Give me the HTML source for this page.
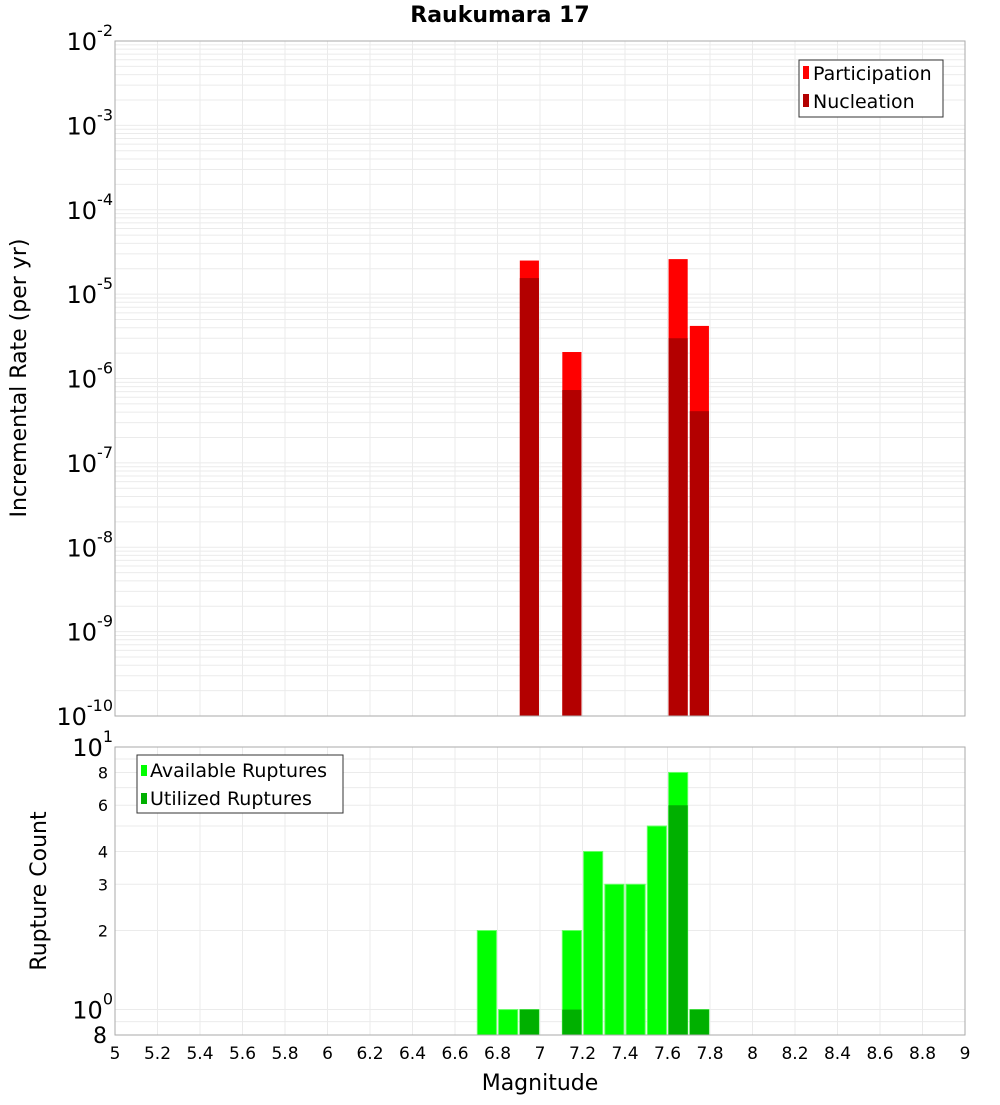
<!DOCTYPE html>
<html><head><meta charset="utf-8"><style>
body{margin:0;background:#fff;width:1000px;height:1100px;overflow:hidden}
svg{font-family:"DejaVu Sans","Liberation Sans",sans-serif}
</style></head><body>
<svg id="chart" width="1000" height="1100" xmlns="http://www.w3.org/2000/svg">
<text x="500" y="22" text-anchor="middle" font-size="22" font-weight="bold">Raukumara 17</text>
<text transform="translate(26,378) rotate(-90)" text-anchor="middle" font-size="22">Incremental Rate (per yr)</text>
<text transform="translate(46,891) rotate(-90)" text-anchor="middle" font-size="22">Rupture Count</text>
<text x="540" y="1090" text-anchor="middle" font-size="22">Magnitude</text>
<g id="gtop"></g><g id="gbot"></g><g id="gxt"></g>
<g>
<rect x="799" y="60" width="144" height="57" fill="#fff" stroke="#333"/>
<rect x="803" y="66" width="6" height="13" fill="#ff0000"/>
<text x="813" y="80" font-size="19">Participation</text>
<rect x="803" y="94" width="6" height="13" fill="#b30000"/>
<text x="813" y="108" font-size="19">Nucleation</text>
</g>
<g>
<rect x="137" y="755" width="206" height="58" fill="#fff" stroke="#333"/>
<rect x="141" y="765" width="6" height="11" fill="#00ff00"/>
<text x="150" y="777" font-size="19">Available Ruptures</text>
<rect x="141" y="793" width="6" height="11" fill="#00b000"/>
<text x="150" y="805" font-size="19">Utilized Ruptures</text>
</g>
</svg>
<script>
const rateMags=[6.95,7.15,7.65,7.75];
const participation=[2.5e-5,2.06e-6,2.6e-5,4.2e-6];
const nucleation=[1.55e-5,7.3e-7,3.0e-6,4.1e-7];
const countMags=[6.75,6.85,6.95,7.15,7.25,7.35,7.45,7.55,7.65,7.75];
const available=[2,1,1,2,4,3,3,5,8,1];
const utilized=[0,0,1,1,0,0,0,0,6,1];
const xTicks=["5","5.2","5.4","5.6","5.8","6","6.2","6.4","6.6","6.8","7","7.2","7.4","7.6","7.8","8","8.2","8.4","8.6","8.8","9"];
const topExps=[-2,-3,-4,-5,-6,-7,-8,-9,-10];
const botTicks=[8,6,4,3,2];

const NS="http://www.w3.org/2000/svg";
const X0=115,X1=965;
const xs=m=>X0+(m-5)/4*(X1-X0);
const T0=41,T1=716;
const ty=v=>T0+(-2-Math.log10(v))/8*(T1-T0);
const B0=747,B1=1035;
const by=v=>B0+(1-Math.log10(v))/(1-Math.log10(0.8))*(B1-B0);
function el(p,t,a,txt){const e=document.createElementNS(NS,t);for(const k in a)e.setAttribute(k,a[k]);if(txt!==undefined)e.textContent=txt;p.appendChild(e);return e;}
const gTop=document.getElementById('gtop'),gBot=document.getElementById('gbot'),gXt=document.getElementById('gxt');
for(let d=-10;d<-2;d++)for(let k=1;k<10;k++){const y=ty(k*Math.pow(10,d));
const g=el(gTop,'line',{x1:X0,x2:X1,y1:y,y2:y,stroke:'#ebebeb'});

}
for(let v=1;v<=10;v++){const y=by(v);
const g=el(gBot,'line',{x1:X0,x2:X1,y1:y,y2:y,stroke:'#ebebeb'});

}
{const y=by(0.9);const g=el(gBot,'line',{x1:X0,x2:X1,y1:y,y2:y,stroke:'#ebebeb'});

}
xTicks.forEach(t=>{const x=xs(+t);
const g1=el(gTop,'line',{x1:x,x2:x,y1:T0,y2:T1,stroke:'#ebebeb'});


const g2=el(gBot,'line',{x1:x,x2:x,y1:B0,y2:B1,stroke:'#ebebeb'});


const l=el(gXt,'text',{x:x,y:1059,'text-anchor':'middle','font-size':17},t);

});
rateMags.forEach((m,i)=>{const x=xs(m-0.045),w=xs(m+0.045)-x;
const p=el(gTop,'rect',{x:x,y:ty(participation[i]),width:w,height:T1-ty(participation[i]),fill:'#ff0000'});


const n=el(gTop,'rect',{x:x,y:ty(nucleation[i]),width:w,height:T1-ty(nucleation[i]),fill:'#b30000'});

});
countMags.forEach((m,i)=>{const x=xs(m-0.045),w=xs(m+0.045)-x;
if(available[i]>0){const a=el(gBot,'rect',{x:x,y:by(available[i]),width:w,height:B1-by(available[i]),fill:'#00ff00',stroke:'#66ff66','stroke-width':1});

}
if(utilized[i]>0){const u=el(gBot,'rect',{x:x,y:by(utilized[i]),width:w,height:B1-by(utilized[i]),fill:'#00b000'});

}});
const f1=el(gTop,'rect',{x:X0,y:T0,width:X1-X0,height:T1-T0,fill:'none',stroke:'#aaa'});


const f2=el(gBot,'rect',{x:X0,y:B0,width:X1-X0,height:B1-B0,fill:'none',stroke:'#aaa'});


topExps.forEach(e=>{const y=ty(Math.pow(10,e));
const t=el(gTop,'text',{x:113,y:y+9,'text-anchor':'end','font-size':24});


el(t,'tspan',{},'10');el(t,'tspan',{dy:-14,'font-size':16},String(e));});
[[1,'1'],[0,'0']].forEach(([v,e])=>{const y=by(Math.pow(10,v));
const t=el(gBot,'text',{x:113,y:y+9,'text-anchor':'end','font-size':24});


el(t,'tspan',{},'10');el(t,'tspan',{dy:-14,'font-size':16},e);});
botTicks.forEach(v=>{const t=el(gBot,'text',{x:108,y:by(v)+6,'text-anchor':'end','font-size':16},String(v));

});
{const t=el(gBot,'text',{x:107,y:by(0.8)+8,'text-anchor':'end','font-size':22},'8');

}
</script>
</body></html>
